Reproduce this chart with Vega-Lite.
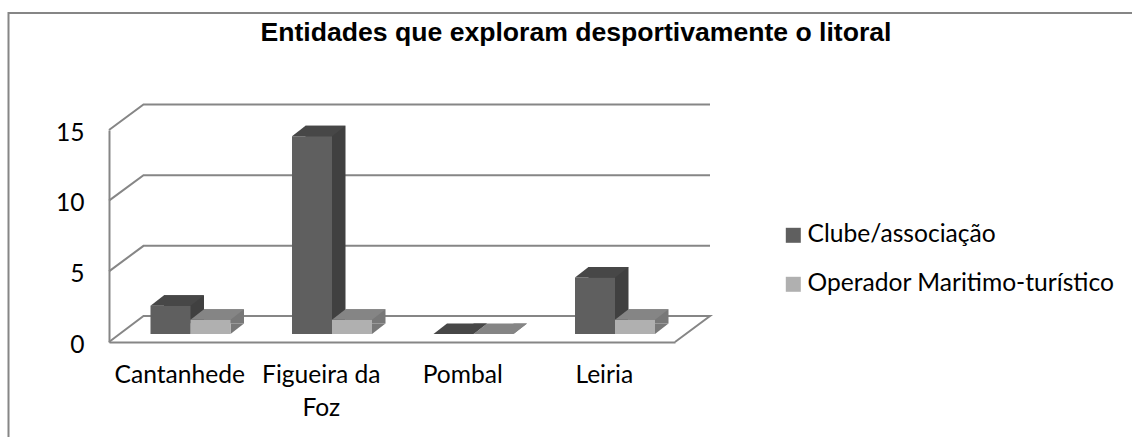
{
"$schema":"https://vega.github.io/schema/vega-lite/v6.json",
"autosize":{"type":"none"},
"padding":{"left":8.5,"top":13,"right":0,"bottom":0},
"width":1130,"height":430,
"background":"white",
"config":{"view":{"stroke":"#868686","strokeWidth":2},"font":"Lato"},
"title":{"text":"Entidades que exploram desportivamente o litoral","font":"Liberation Sans","fontWeight":"bold","fontSize":26.6,"color":"#000000","anchor":"middle","frame":"group","baseline":"alphabetic","dx":2.5,"dy":55,"offset":0},
"datasets":{"rows":[
{"city":"Cantanhede","series":"Clube/associação","value":2},
{"city":"Cantanhede","series":"Operador Maritimo-turístico","value":1},
{"city":"Figueira da Foz","series":"Clube/associação","value":14},
{"city":"Figueira da Foz","series":"Operador Maritimo-turístico","value":1},
{"city":"Pombal","series":"Clube/associação","value":0},
{"city":"Pombal","series":"Operador Maritimo-turístico","value":0},
{"city":"Leiria","series":"Clube/associação","value":4},
{"city":"Leiria","series":"Operador Maritimo-turístico","value":1}
],"grid":[{"v":5},{"v":10},{"v":15}],"floor":[{"v":0}]},
"data":{"name":"rows"},
"resolve":{"scale":{"xOffset":"independent"}},
"encoding":{
"x":{"field":"city","type":"nominal","title":null,"sort":null,
"scale":{"domain":["Cantanhede","Figueira da Foz","Pombal","Leiria"],"range":[100.5,666.5],"paddingInner":0,"paddingOuter":0},
"axis":{"offset":-101,"domainColor":"#868686","domainWidth":2,"ticks":false,"labelAngle":0,"labelFont":"Lato","labelFontSize":24.6,"labelColor":"#000000","labelPadding":33,"labelLineHeight":33,"labelBaseline":"middle","labelLimit":300,"labelExpr":"datum.label == 'Figueira da Foz' ? ['Figueira da','Foz'] : datum.label"}},
"xOffset":{"field":"series","type":"nominal","sort":null,"scale":{"type":"band","domain":["Clube/associação","Operador Maritimo-turístico"],"range":[41.5,121.5],"paddingInner":0,"paddingOuter":0}},
"y":{"field":"value","type":"quantitative","title":null,
"scale":{"domain":[0,15],"range":[329,117],"nice":false},
"axis":{"offset":-100.5,"values":[0,5,10,15],"grid":false,"domainColor":"#868686","domainWidth":2,"ticks":false,"labelFont":"Lato","labelFontSize":24.6,"labelColor":"#000000","labelPadding":25,"labelOffset":3}}
},
"layer":[
{"data":{"name":"grid"},"mark":{"type":"point","filled":false,"size":4,"opacity":1,"stroke":"#868686","strokeWidth":2,"fill":null,"shape":"M0,0L34.5,-25.5L601,-25.5"},
 "encoding":{"x":{"datum":"Cantanhede","type":"nominal","bandPosition":0},"xOffset":{"value":0},"y":{"field":"v","type":"quantitative"}}},
{"data":{"name":"floor"},"mark":{"type":"point","filled":false,"size":4,"opacity":1,"stroke":"#868686","strokeWidth":2,"fill":null,"shape":"M0,0L34.5,-26L601,-26L566,0"},
 "encoding":{"x":{"datum":"Cantanhede","type":"nominal","bandPosition":0},"xOffset":{"value":0},"y":{"field":"v","type":"quantitative"}}},
{"mark":{"type":"bar","yOffset":-18.5,"y2Offset":-18.5},
 "encoding":{"xOffset":{"field":"series","type":"nominal","sort":null,"scale":{"type":"band","domain":["Clube/associação","Operador Maritimo-turístico"],"range":[55,135],"paddingInner":0,"paddingOuter":0}},
 "color":{"condition":{"test":"datum.series === 'Clube/associação'","value":"#404040"},"value":"#787878"}}},
{"mark":{"type":"point","filled":true,"size":4,"opacity":1,"strokeWidth":0,"shape":"M20,-8L33.5,-18.5L20,-18.5Z"},
 "encoding":{"y":{"datum":0,"type":"quantitative"},"fill":{"condition":{"test":"datum.series === 'Clube/associação'","value":"#404040"},"value":"#787878"}}},
{"mark":{"type":"bar","yOffset":-8,"y2Offset":-8},
 "encoding":{"color":{"field":"series","type":"nominal","sort":null,"title":null,
 "scale":{"domain":["Clube/associação","Operador Maritimo-turístico"],"range":["#5f5f5f","#b0b0b0"]},
 "legend":{"orient":"none","legendX":772.5,"legendY":210,"symbolType":"square","symbolSize":225,"symbolStrokeWidth":0,"labelFont":"Lato","labelFontSize":24.6,"labelColor":"#000000","labelOffset":2,"rowPadding":24,"labelLimit":400,"title":null}}}},
{"mark":{"type":"point","filled":true,"size":4,"opacity":1,"strokeWidth":0,"shape":"M-20,-8L-6.5,-18.5L33.5,-18.5L20,-8Z"},
 "encoding":{"fill":{"condition":{"test":"datum.series === 'Clube/associação'","value":"#474747"},"value":"#858585"}}}
]
}
